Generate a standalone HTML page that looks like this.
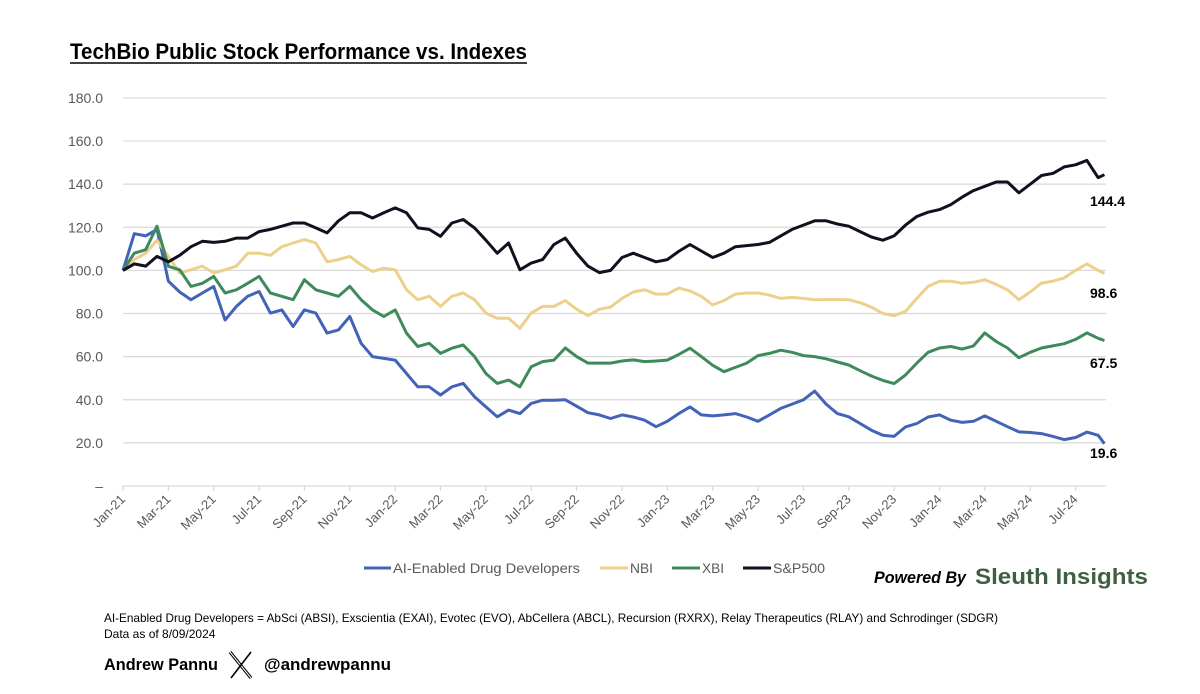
<!DOCTYPE html>
<html><head><meta charset="utf-8"><style>
body{margin:0;background:#fff;width:1200px;height:689px;overflow:hidden;font-family:"Liberation Sans",sans-serif;}
</style></head><body>
<svg id="chart" width="1200" height="689" viewBox="0 0 1200 689" xmlns="http://www.w3.org/2000/svg" font-family="Liberation Sans, sans-serif">
<text x="70" y="59" font-size="22" font-weight="bold" textLength="457" lengthAdjust="spacingAndGlyphs" fill="#000">TechBio Public Stock Performance vs. Indexes</text>
<line x1="70" y1="63" x2="527" y2="63" stroke="#000" stroke-width="1.6"/>
<g id="grid"></g>
<g id="yaxis"></g>
<g id="xaxis"></g>
<g id="series"></g>
<g id="endlabels"></g>
<g font-size="14" fill="#595959">
<line x1="364" y1="568" x2="391" y2="568" stroke="#4263b8" stroke-width="3"/>
<text x="393" y="573" textLength="187" lengthAdjust="spacingAndGlyphs">AI-Enabled Drug Developers</text>
<line x1="600" y1="568" x2="628" y2="568" stroke="#ecd08c" stroke-width="3"/>
<text x="630" y="573" textLength="23" lengthAdjust="spacingAndGlyphs">NBI</text>
<line x1="672" y1="568" x2="700" y2="568" stroke="#3f8a5a" stroke-width="3"/>
<text x="702" y="573" textLength="22" lengthAdjust="spacingAndGlyphs">XBI</text>
<line x1="743" y1="568" x2="771" y2="568" stroke="#120f1f" stroke-width="3"/>
<text x="773" y="573" textLength="52" lengthAdjust="spacingAndGlyphs">S&amp;P500</text>
</g>
<text x="874" y="583" font-size="17" font-weight="bold" font-style="italic" fill="#000" textLength="92" lengthAdjust="spacingAndGlyphs">Powered By</text>
<text x="975" y="584" font-size="22" font-weight="bold" fill="#3e6040" textLength="173" lengthAdjust="spacingAndGlyphs">Sleuth Insights</text>
<text x="104" y="622" font-size="12" fill="#000" textLength="894" lengthAdjust="spacingAndGlyphs">AI-Enabled Drug Developers = AbSci (ABSI), Exscientia (EXAI), Evotec (EVO), AbCellera (ABCL), Recursion (RXRX), Relay Therapeutics (RLAY) and Schrodinger (SDGR)</text>
<text x="104" y="638" font-size="12" fill="#000">Data as of 8/09/2024</text>
<text x="104" y="670" font-size="17" font-weight="bold" fill="#000" textLength="114" lengthAdjust="spacingAndGlyphs">Andrew Pannu</text>
<g stroke="#000" fill="none">
<line x1="230" y1="652" x2="251" y2="678" stroke-width="3.2"/>
<line x1="230" y1="652" x2="251" y2="678" stroke="#fff" stroke-width="1"/>
<line x1="251" y1="652" x2="231" y2="678" stroke-width="1.6"/>
</g>
<text x="264" y="670" font-size="17" font-weight="bold" fill="#000" textLength="127" lengthAdjust="spacingAndGlyphs">@andrewpannu</text>
</svg>
<script>
const months = [0,0.5,1,1.5,2,2.5,3,3.5,4,4.5,5,5.5,6,6.5,7,7.5,8,8.5,9,9.5,10,10.5,11,11.5,12,12.5,13,13.5,14,14.5,15,15.5,16,16.5,17,17.5,18,18.5,19,19.5,20,20.5,21,21.5,22,22.5,23,23.5,24,24.5,25,25.5,26,26.5,27,27.5,28,28.5,29,29.5,30,30.5,31,31.5,32,32.5,33,33.5,34,34.5,35,35.5,36,36.5,37,37.5,38,38.5,39,39.5,40,40.5,41,41.5,42,42.5,43,43.27];
const spValues = [100,103,102,106.5,104,107,111,113.5,113,113.5,115,115,118,119,120.5,122,122,119.7,117.4,123,126.7,126.7,124.3,126.7,129,126.7,119.7,119,115.8,122,123.6,119.7,114,108,112.7,100.3,103.4,105,112,115,108,102,99,100,106,108,106,104,105,108.8,112,109,106,108,111,111.5,112,113,116,119,121,123,123,121.5,120.5,118,115.5,114,116,121,125,127,128.2,130.5,134,137,139,141,141,136,140,144,145,148,149,151,143,144.4];
const nbiValues = [100,105,108,114,106.5,98.8,100.3,102,98.8,100.3,102,108,108,107,111,112.7,114.3,112.7,104,105,106.5,102.6,99.5,101,100.3,91,86.4,88,83.3,88,89.5,86.4,80.2,77.8,77.8,73.2,80.2,83.3,83.3,86,82,79,82,83,87,90,91,89,89,91.8,90.5,88,84,86,89,89.5,89.5,88.5,87,87.5,87,86.4,86.5,86.5,86.4,85,83,80,79,81,87,92.6,95,95,94,94.5,95.7,93.5,91,86.4,90,94.1,95,96.5,100,103,100,98.6];
const xbiValues = [100,108,109.6,120.5,101.9,100.3,92.6,94,97.2,89.5,91,94,97.2,89.5,88,86.4,95.7,91,89.5,88,92.6,86.4,81.7,78.6,81.7,70.9,64.7,66.2,61.5,63.9,65.4,60,52.2,47.6,49.1,46,55.3,57.7,58.4,64,60,57,57,57,58,58.5,57.7,58,58.4,61,63.9,60,56,53,55,57,60.5,61.5,63,62,60.5,60,59,57.5,56.1,53.5,51,49,47.5,51.5,57,62,64,64.7,63.5,65,71,67,64,59.5,62,64,65,66,68,71,68.5,67.5];
const aiValues = [100,117,116,119,95,90,86.4,89.5,92.6,77,83.3,88,90.2,80.2,81.7,74,81.7,80.2,70.9,72.4,78.6,66.2,60,59.2,58.4,52.2,46,46,42.2,46,47.6,41.4,36.7,32.1,35.2,33.6,38.3,39.8,39.8,40,37,34,33,31.3,33,32,30.5,27.5,30,33.6,36.7,33,32.5,33,33.6,32,30,33,36,38,40,44,38,33.6,32.1,29,25.9,23.5,23,27.4,29,32,33,30.5,29.5,30,32.5,30,27.5,25.1,24.8,24.3,23,21.5,22.5,25,23.5,19.6];
const yTicks = [0,20,40,60,80,100,120,140,160,180];
const yTickLabels = ["–","20.0","40.0","60.0","80.0","100.0","120.0","140.0","160.0","180.0"];
const xTickLabels = ["Jan-21","Mar-21","May-21","Jul-21","Sep-21","Nov-21","Jan-22","Mar-22","May-22","Jul-22","Sep-22","Nov-22","Jan-23","Mar-23","May-23","Jul-23","Sep-23","Nov-23","Jan-24","Mar-24","May-24","Jul-24"];
const xTickMonths = [0,2,4,6,8,10,12,14,16,18,20,22,24,26,28,30,32,34,36,38,40,42];
const endLabels = ["144.4","98.6","67.5","19.6"];

const NS="http://www.w3.org/2000/svg";
const X0=123, XPM=22.68, Y0=486, YPU=2.156, XEND=1106;
function xs(m){return X0+m*XPM;}
function ys(v){return Y0-v*YPU;}
function mk(tag,attrs,parent){const e=document.createElementNS(NS,tag);for(const k in attrs)e.setAttribute(k,attrs[k]);parent.appendChild(e);return e;}
const grid=document.getElementById('grid'),yax=document.getElementById('yaxis'),xax=document.getElementById('xaxis'),ser=document.getElementById('series'),endg=document.getElementById('endlabels');
yTicks.forEach((v,i)=>{
  const l=mk('line',{x1:X0,x2:XEND,y1:ys(v),y2:ys(v),stroke:'#d9d9d9','stroke-width':1.2},grid);
  
  
  const t=mk('text',{x:103,y:ys(v)+5,'text-anchor':'end','font-size':14,fill:'#595959'},yax);
  t.textContent=yTickLabels[i];
  
  
});
xTickMonths.forEach((m,i)=>{
  const x=xs(m);
  const tk=mk('line',{x1:x,x2:x,y1:Y0,y2:Y0+5,stroke:'#d9d9d9','stroke-width':1.2},xax);
  
  
  const t=mk('text',{x:x+3,y:Y0+14,'text-anchor':'end','font-size':13,fill:'#595959',transform:`rotate(-45 ${x+3} ${Y0+14})`},xax);
  t.textContent=xTickLabels[i];
  
  
});
const series=[[aiValues,'#4263b8','ai-line'],[nbiValues,'#ecd08c','nbi-line'],[xbiValues,'#3f8a5a','xbi-line'],[spValues,'#120f1f','sp500-line']];
series.forEach(s=>{
  const d=months.map((m,i)=>(i?'L':'M')+xs(m).toFixed(1)+','+ys(s[0][i]).toFixed(1)).join('');
  const p=mk('path',{d:d,fill:'none',stroke:s[1],'stroke-width':3,'stroke-linejoin':'round'},ser);
  
  
});
const endYs=[201,293,363,453];
endLabels.forEach((lab,i)=>{
  const t=mk('text',{x:1090,y:endYs[i]+5,'font-size':14,'font-weight':'bold',fill:'#000'},endg);
  t.textContent=lab;
  
  
});
</script>
</body></html>
